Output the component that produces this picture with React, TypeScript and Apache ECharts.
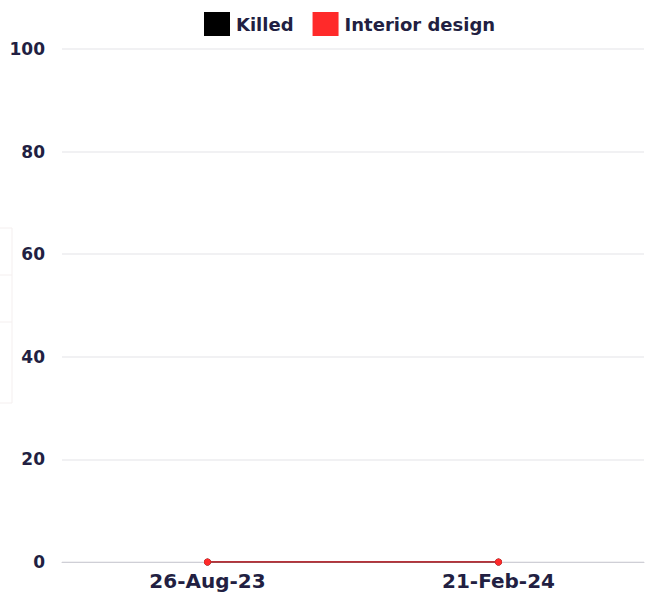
import React, { useEffect, useRef } from "react";
import * as echarts from "echarts";

const categories = ["26-Aug-23", "21-Feb-24"];
const killed = [0, 0];
const interiorDesign = [0, 0];
const seriesNames = ["Killed", "Interior design"];

const TEXT = "#221f42";
const FONT = "'DejaVu Sans', sans-serif";

export default function App() {
  const ref = useRef<HTMLDivElement>(null);

  useEffect(() => {
    if (!ref.current) return;
    const chart = echarts.init(ref.current, undefined, { renderer: "svg" });
    chart.setOption({
      animation: false,
      backgroundColor: "#ffffff",
      legend: {
        top: 7,
        left: 199,
        itemWidth: 26,
        itemHeight: 24,
        itemGap: 19,
        icon: "rect",
        textStyle: { color: TEXT, fontSize: 18, fontWeight: 700, fontFamily: FONT, padding: [0, 0, 0, 1] },
        data: seriesNames,
      },
      grid: { left: 62, right: 6, top: 49, bottom: 33, containLabel: false },
      xAxis: {
        type: "category",
        data: categories,
        boundaryGap: true,
        axisLine: { lineStyle: { color: "#cfcfd6", width: 1 } },
        axisTick: { show: false },
        axisLabel: { color: TEXT, fontSize: 20, fontWeight: 700, fontFamily: FONT, margin: 9 },
      },
      yAxis: {
        type: "value",
        min: 0,
        max: 100,
        interval: 20,
        axisLine: { show: false },
        axisTick: { show: false },
        splitLine: { lineStyle: { color: "#ececef", width: 1.5 } },
        axisLabel: { color: TEXT, fontSize: 17, fontWeight: 700, fontFamily: FONT, margin: 17 },
      },
      graphic: [
        {
          type: "group",
          silent: true,
          children: [
            { type: "rect", shape: { x: -10, y: 228, width: 22, height: 175 }, style: { fill: "none", stroke: "#f4efef", lineWidth: 1 } },
            { type: "line", shape: { x1: -10, y1: 275, x2: 12, y2: 275 }, style: { stroke: "#f4efef", lineWidth: 1 } },
            { type: "line", shape: { x1: -10, y1: 322, x2: 12, y2: 322 }, style: { stroke: "#f4efef", lineWidth: 1 } },
          ],
        },
      ],
      series: [
        {
          name: seriesNames[0],
          type: "line",
          data: killed,
          color: "#000000",
          symbol: "circle",
          symbolSize: 7,
          lineStyle: { width: 1.5 },
        },
        {
          name: seriesNames[1],
          type: "line",
          data: interiorDesign,
          color: "#ff2a2a",
          symbol: "circle",
          symbolSize: 7,
          lineStyle: { width: 1.5, color: "#e0303a" },
        },
      ],
    });
    return () => chart.dispose();
  }, []);

  return (
    <div
      ref={ref}
      style={{ position: "fixed", left: 0, top: 0, width: 650, height: 595 }}
    />
  );
}
